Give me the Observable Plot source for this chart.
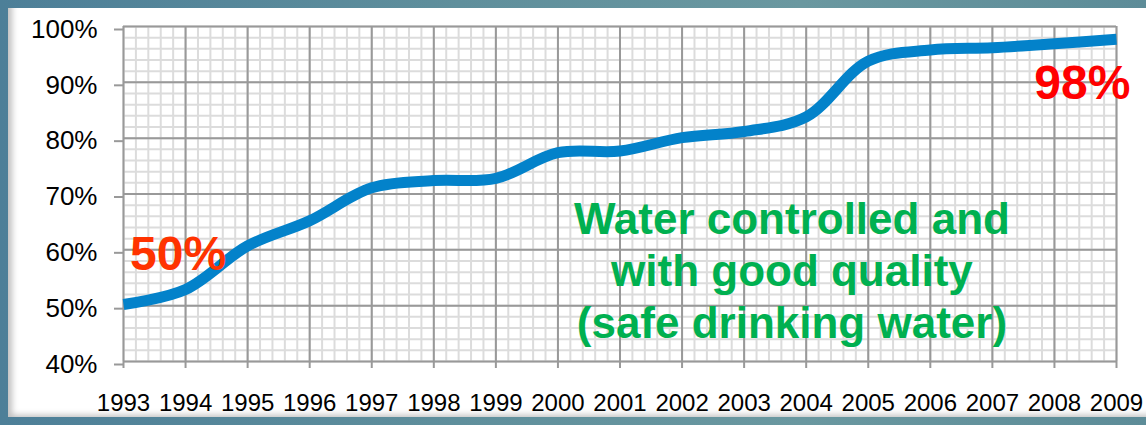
<!DOCTYPE html>
<html>
<head>
<meta charset="utf-8">
<script src="https://cdn.jsdelivr.net/npm/d3@7"></script>
<script src="https://cdn.jsdelivr.net/npm/@observablehq/plot@0.6"></script>
<style>
  html, body { margin: 0; padding: 0; }
  body {
    width: 1146px; height: 425px; overflow: hidden; position: relative;
    background: linear-gradient(90deg, #4d7f98 0%, #5f8f9c 40%, #6a98a0 70%, #5d8c98 100%);
    font-family: "Liberation Sans", Arial, sans-serif;
  }
  #panel {
    position: absolute; left: 8px; top: 8px; width: 1146px; height: 409px;
    background: #fff;
    box-shadow: inset 7px -5px 6px -3px rgba(0,0,0,0.25);
  }
  #chart { position: absolute; left: 0; top: 0; }
</style>
</head>
<body>
<div id="panel"></div>
<div id="chart"></div>
<script>
const years = [1993, 1994, 1995, 1996, 1997, 1998, 1999, 2000, 2001, 2002, 2003, 2004, 2005, 2006, 2007, 2008, 2009];
const shareSafe = [50.2, 52.9, 60.7, 65.2, 71.1, 72.4, 72.8, 77.4, 77.7, 80.1, 81.2, 83.8, 93.8, 95.8, 96.2, 96.9, 97.7];
const yTicks = [40, 50, 60, 70, 80, 90, 100];
const startLabel = "50%";
const endLabel = "98%";
const noteLines = ["Water controlled and", "with good quality", "(safe drinking water)"];

const data = years.map((y, i) => ({year: y, value: shareSafe[i]}));
const minorX = d3.range(1993, 2009.001, 0.2).map(v => +v.toFixed(1));
const minorY = d3.range(40, 100.001, 2);

const chart = Plot.plot({
  width: 1146,
  height: 425,
  marginLeft: 123,
  marginRight: 30,
  marginTop: 26,
  marginBottom: 64,
  style: {background: "transparent", fontFamily: "'Liberation Sans', Arial, sans-serif", color: "#000"},
  x: {domain: [1993, 2009]},
  y: {domain: [40, 100]},
  marks: [
    Plot.ruleX(minorX, {stroke: "#dcdcdc", strokeWidth: 2}),
    Plot.ruleY(minorY, {stroke: "#dcdcdc", strokeWidth: 2}),
    Plot.ruleX(years, {stroke: "#999", strokeWidth: 2}),
    Plot.ruleY(yTicks, {stroke: "#999", strokeWidth: 2}),
    Plot.axisY({ticks: yTicks, tickSize: 9, tickPadding: 17, stroke: "#999", strokeWidth: 2, strokeOpacity: 1,
      fontSize: 26, tickFormat: d => d + "%", dy: 3, label: null}),
    Plot.axisX({ticks: years, tickSize: 7, tickPadding: 25, stroke: "#999", strokeWidth: 2, strokeOpacity: 1,
      fontSize: 24, tickFormat: d => String(d), label: null}),
    Plot.line(data, {x: "year", y: "value", stroke: "#0382ca", strokeWidth: 11, strokeLinecap: "butt", curve: "catmull-rom"}),
    Plot.text([startLabel], {x: 1993.88, y: 59.2, text: d => d, fill: "#ff3300", fontSize: 48, fontWeight: "bold", textAnchor: "middle", ariaLabel: "big-label-start"}),
    Plot.text([endLabel], {x: 2008.45, y: 89.8, text: d => d, fill: "#ff0000", fontSize: 48, fontWeight: "bold", textAnchor: "middle", ariaLabel: "big-label-end"}),
    Plot.text(noteLines, {x: 2003.77, y: (d, i) => 65.3 - i * 9.3, text: d => d, fill: "#00b050", fontSize: 44, fontWeight: "bold", textAnchor: "middle", ariaLabel: "note"})
  ]
});
d3.select(chart).selectAll('g[aria-label^="big-label"] text').attr("letter-spacing", "-2px");
document.getElementById("chart").appendChild(chart);
</script>
</body>
</html>
